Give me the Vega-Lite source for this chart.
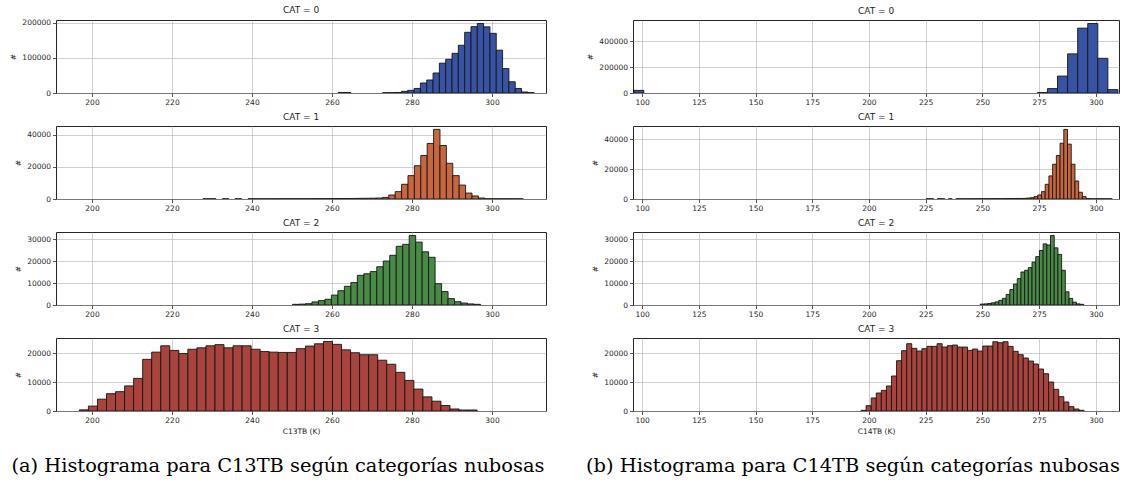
{
  "$schema": "https://vega.github.io/schema/vega-lite/v6.json",
  "background": "white",
  "padding": {"left": 9, "top": 5, "right": 5, "bottom": 5},
  "datasets": {
    "c13": [
      {"cat": 0, "t": 261.44, "n": 1500}, {"cat": 0, "t": 263.02, "n": 1500},
      {"cat": 0, "t": 272.5, "n": 800}, {"cat": 0, "t": 274.08, "n": 1000}, {"cat": 0, "t": 275.66, "n": 1500},
      {"cat": 0, "t": 277.24, "n": 4800}, {"cat": 0, "t": 278.82, "n": 7600}, {"cat": 0, "t": 280.4, "n": 13000},
      {"cat": 0, "t": 281.98, "n": 28500}, {"cat": 0, "t": 283.56, "n": 37000}, {"cat": 0, "t": 285.14, "n": 57000},
      {"cat": 0, "t": 286.72, "n": 85000}, {"cat": 0, "t": 288.3, "n": 96000}, {"cat": 0, "t": 289.88, "n": 113000},
      {"cat": 0, "t": 291.46, "n": 136000}, {"cat": 0, "t": 293.04, "n": 173000}, {"cat": 0, "t": 294.62, "n": 189000},
      {"cat": 0, "t": 296.2, "n": 198000}, {"cat": 0, "t": 297.78, "n": 188500}, {"cat": 0, "t": 299.36, "n": 170000},
      {"cat": 0, "t": 300.94, "n": 122000}, {"cat": 0, "t": 302.52, "n": 69500}, {"cat": 0, "t": 304.1, "n": 32000},
      {"cat": 0, "t": 305.68, "n": 13000}, {"cat": 0, "t": 307.26, "n": 2900}, {"cat": 0, "t": 308.84, "n": 1000},

      {"cat": 1, "t": 227.67, "n": 150}, {"cat": 1, "t": 229.27, "n": 150}, {"cat": 1, "t": 232.47, "n": 150},
      {"cat": 1, "t": 235.67, "n": 150}, {"cat": 1, "t": 238.87, "n": 150}, {"cat": 1, "t": 240.47, "n": 150},
      {"cat": 1, "t": 242.07, "n": 150}, {"cat": 1, "t": 243.67, "n": 150}, {"cat": 1, "t": 245.27, "n": 150},
      {"cat": 1, "t": 246.87, "n": 200}, {"cat": 1, "t": 248.47, "n": 200}, {"cat": 1, "t": 250.07, "n": 200},
      {"cat": 1, "t": 251.67, "n": 200}, {"cat": 1, "t": 253.27, "n": 200}, {"cat": 1, "t": 254.87, "n": 250},
      {"cat": 1, "t": 256.47, "n": 250}, {"cat": 1, "t": 258.07, "n": 250}, {"cat": 1, "t": 259.67, "n": 300},
      {"cat": 1, "t": 261.27, "n": 300}, {"cat": 1, "t": 262.87, "n": 300}, {"cat": 1, "t": 264.47, "n": 350},
      {"cat": 1, "t": 266.07, "n": 400}, {"cat": 1, "t": 267.67, "n": 450}, {"cat": 1, "t": 269.27, "n": 500},
      {"cat": 1, "t": 270.87, "n": 600}, {"cat": 1, "t": 272.47, "n": 1000}, {"cat": 1, "t": 274.07, "n": 2500},
      {"cat": 1, "t": 275.67, "n": 4600}, {"cat": 1, "t": 277.27, "n": 9200}, {"cat": 1, "t": 278.87, "n": 14600},
      {"cat": 1, "t": 280.47, "n": 20800}, {"cat": 1, "t": 282.07, "n": 27200}, {"cat": 1, "t": 283.67, "n": 34700},
      {"cat": 1, "t": 285.27, "n": 43500}, {"cat": 1, "t": 286.87, "n": 33400}, {"cat": 1, "t": 288.47, "n": 22300},
      {"cat": 1, "t": 290.07, "n": 14600}, {"cat": 1, "t": 291.67, "n": 8700}, {"cat": 1, "t": 293.27, "n": 3700},
      {"cat": 1, "t": 294.87, "n": 1900}, {"cat": 1, "t": 296.47, "n": 600}, {"cat": 1, "t": 298.07, "n": 150},
      {"cat": 1, "t": 299.67, "n": 150}, {"cat": 1, "t": 301.27, "n": 150}, {"cat": 1, "t": 302.87, "n": 150},
      {"cat": 1, "t": 304.47, "n": 150}, {"cat": 1, "t": 306.07, "n": 150},

      {"cat": 2, "t": 250.01, "n": 300}, {"cat": 2, "t": 251.63, "n": 400}, {"cat": 2, "t": 253.25, "n": 600},
      {"cat": 2, "t": 254.87, "n": 1400}, {"cat": 2, "t": 256.49, "n": 2000}, {"cat": 2, "t": 258.11, "n": 2600},
      {"cat": 2, "t": 259.73, "n": 4500}, {"cat": 2, "t": 261.35, "n": 6500}, {"cat": 2, "t": 262.97, "n": 8500},
      {"cat": 2, "t": 264.59, "n": 10200}, {"cat": 2, "t": 266.21, "n": 13500}, {"cat": 2, "t": 267.83, "n": 14200},
      {"cat": 2, "t": 269.45, "n": 15200}, {"cat": 2, "t": 271.07, "n": 17400}, {"cat": 2, "t": 272.69, "n": 20000},
      {"cat": 2, "t": 274.31, "n": 22600}, {"cat": 2, "t": 275.93, "n": 26700}, {"cat": 2, "t": 277.55, "n": 27600},
      {"cat": 2, "t": 279.17, "n": 31600}, {"cat": 2, "t": 280.79, "n": 28600}, {"cat": 2, "t": 282.41, "n": 24200},
      {"cat": 2, "t": 284.03, "n": 21700}, {"cat": 2, "t": 285.65, "n": 9700}, {"cat": 2, "t": 287.27, "n": 6100},
      {"cat": 2, "t": 288.89, "n": 2900}, {"cat": 2, "t": 290.51, "n": 1500}, {"cat": 2, "t": 292.13, "n": 900},
      {"cat": 2, "t": 293.75, "n": 500}, {"cat": 2, "t": 295.37, "n": 300},

      {"cat": 3, "t": 196.72, "n": 400}, {"cat": 3, "t": 198.98, "n": 1700}, {"cat": 3, "t": 201.24, "n": 4100},
      {"cat": 3, "t": 203.5, "n": 6000}, {"cat": 3, "t": 205.76, "n": 6700}, {"cat": 3, "t": 208.02, "n": 8700},
      {"cat": 3, "t": 210.28, "n": 11300}, {"cat": 3, "t": 212.54, "n": 17900}, {"cat": 3, "t": 214.8, "n": 20400},
      {"cat": 3, "t": 217.06, "n": 22600}, {"cat": 3, "t": 219.32, "n": 21000}, {"cat": 3, "t": 221.58, "n": 19900},
      {"cat": 3, "t": 223.84, "n": 21400}, {"cat": 3, "t": 226.1, "n": 21900}, {"cat": 3, "t": 228.36, "n": 22600},
      {"cat": 3, "t": 230.62, "n": 23000}, {"cat": 3, "t": 232.88, "n": 21900}, {"cat": 3, "t": 235.14, "n": 22600},
      {"cat": 3, "t": 237.4, "n": 22600}, {"cat": 3, "t": 239.66, "n": 21400}, {"cat": 3, "t": 241.92, "n": 20600},
      {"cat": 3, "t": 244.18, "n": 20400}, {"cat": 3, "t": 246.44, "n": 20300}, {"cat": 3, "t": 248.7, "n": 20300},
      {"cat": 3, "t": 250.96, "n": 21600}, {"cat": 3, "t": 253.22, "n": 22500}, {"cat": 3, "t": 255.48, "n": 23300},
      {"cat": 3, "t": 257.74, "n": 24100}, {"cat": 3, "t": 260.0, "n": 23100}, {"cat": 3, "t": 262.26, "n": 21200},
      {"cat": 3, "t": 264.52, "n": 20200}, {"cat": 3, "t": 266.78, "n": 19500}, {"cat": 3, "t": 269.04, "n": 19500},
      {"cat": 3, "t": 271.3, "n": 17600}, {"cat": 3, "t": 273.56, "n": 16200}, {"cat": 3, "t": 275.82, "n": 13400},
      {"cat": 3, "t": 278.08, "n": 10600}, {"cat": 3, "t": 280.34, "n": 7600}, {"cat": 3, "t": 282.6, "n": 4900},
      {"cat": 3, "t": 284.86, "n": 3400}, {"cat": 3, "t": 287.12, "n": 1900}, {"cat": 3, "t": 289.38, "n": 700},
      {"cat": 3, "t": 291.64, "n": 350}, {"cat": 3, "t": 293.9, "n": 350}
    ],
    "c14": [
      {"cat": 0, "t": 96.1, "n": 20000}, {"cat": 0, "t": 274.0, "n": 3000}, {"cat": 0, "t": 278.44, "n": 34000},
      {"cat": 0, "t": 282.88, "n": 130000}, {"cat": 0, "t": 287.32, "n": 301000}, {"cat": 0, "t": 291.76, "n": 499000},
      {"cat": 0, "t": 296.2, "n": 535000}, {"cat": 0, "t": 300.64, "n": 267000}, {"cat": 0, "t": 305.08, "n": 26000},

      {"cat": 1, "t": 224.97, "n": 150}, {"cat": 1, "t": 226.61, "n": 150}, {"cat": 1, "t": 229.89, "n": 150},
      {"cat": 1, "t": 231.53, "n": 150}, {"cat": 1, "t": 234.81, "n": 150}, {"cat": 1, "t": 238.09, "n": 150},
      {"cat": 1, "t": 239.73, "n": 150}, {"cat": 1, "t": 241.37, "n": 150}, {"cat": 1, "t": 243.01, "n": 150},
      {"cat": 1, "t": 244.65, "n": 150}, {"cat": 1, "t": 246.29, "n": 200}, {"cat": 1, "t": 247.93, "n": 200},
      {"cat": 1, "t": 249.57, "n": 200}, {"cat": 1, "t": 251.21, "n": 200}, {"cat": 1, "t": 252.85, "n": 200},
      {"cat": 1, "t": 254.49, "n": 250}, {"cat": 1, "t": 256.13, "n": 250}, {"cat": 1, "t": 257.77, "n": 250},
      {"cat": 1, "t": 259.41, "n": 300}, {"cat": 1, "t": 261.05, "n": 300}, {"cat": 1, "t": 262.69, "n": 300},
      {"cat": 1, "t": 264.33, "n": 350}, {"cat": 1, "t": 265.97, "n": 350}, {"cat": 1, "t": 267.61, "n": 400},
      {"cat": 1, "t": 269.25, "n": 600}, {"cat": 1, "t": 270.89, "n": 900}, {"cat": 1, "t": 272.53, "n": 1600},
      {"cat": 1, "t": 274.17, "n": 2700}, {"cat": 1, "t": 275.81, "n": 4900}, {"cat": 1, "t": 277.45, "n": 9800},
      {"cat": 1, "t": 279.09, "n": 15400}, {"cat": 1, "t": 280.73, "n": 23200}, {"cat": 1, "t": 282.37, "n": 29000},
      {"cat": 1, "t": 284.01, "n": 37200}, {"cat": 1, "t": 285.65, "n": 46400}, {"cat": 1, "t": 287.29, "n": 36600},
      {"cat": 1, "t": 288.93, "n": 23200}, {"cat": 1, "t": 290.57, "n": 12000}, {"cat": 1, "t": 292.21, "n": 4500},
      {"cat": 1, "t": 293.85, "n": 1600}, {"cat": 1, "t": 295.49, "n": 300}, {"cat": 1, "t": 297.13, "n": 150},
      {"cat": 1, "t": 298.77, "n": 150}, {"cat": 1, "t": 300.41, "n": 150}, {"cat": 1, "t": 302.05, "n": 150},
      {"cat": 1, "t": 303.69, "n": 150}, {"cat": 1, "t": 305.33, "n": 150},

      {"cat": 2, "t": 248.83, "n": 400}, {"cat": 2, "t": 250.46, "n": 500}, {"cat": 2, "t": 252.09, "n": 700},
      {"cat": 2, "t": 253.72, "n": 1000}, {"cat": 2, "t": 255.35, "n": 1400}, {"cat": 2, "t": 256.98, "n": 2100},
      {"cat": 2, "t": 258.61, "n": 3000}, {"cat": 2, "t": 260.24, "n": 4800}, {"cat": 2, "t": 261.87, "n": 7000},
      {"cat": 2, "t": 263.5, "n": 9500}, {"cat": 2, "t": 265.13, "n": 12000}, {"cat": 2, "t": 266.76, "n": 15000},
      {"cat": 2, "t": 268.39, "n": 15800}, {"cat": 2, "t": 270.02, "n": 17000}, {"cat": 2, "t": 271.65, "n": 19500},
      {"cat": 2, "t": 273.28, "n": 22000}, {"cat": 2, "t": 274.91, "n": 24800}, {"cat": 2, "t": 276.54, "n": 27800},
      {"cat": 2, "t": 278.17, "n": 27300}, {"cat": 2, "t": 279.8, "n": 31600}, {"cat": 2, "t": 281.43, "n": 26000},
      {"cat": 2, "t": 283.06, "n": 23000}, {"cat": 2, "t": 284.69, "n": 15800}, {"cat": 2, "t": 286.32, "n": 6000},
      {"cat": 2, "t": 287.95, "n": 3000}, {"cat": 2, "t": 289.58, "n": 1300}, {"cat": 2, "t": 291.21, "n": 500},
      {"cat": 2, "t": 292.84, "n": 300},

      {"cat": 3, "t": 196.3, "n": 230}, {"cat": 3, "t": 198.53, "n": 1840}, {"cat": 3, "t": 200.77, "n": 4490},
      {"cat": 3, "t": 203.0, "n": 6210}, {"cat": 3, "t": 205.24, "n": 7130}, {"cat": 3, "t": 207.47, "n": 8630},
      {"cat": 3, "t": 209.7, "n": 12080}, {"cat": 3, "t": 211.94, "n": 17370}, {"cat": 3, "t": 214.17, "n": 20820},
      {"cat": 3, "t": 216.41, "n": 23230}, {"cat": 3, "t": 218.64, "n": 21620}, {"cat": 3, "t": 220.87, "n": 20700},
      {"cat": 3, "t": 223.11, "n": 21500}, {"cat": 3, "t": 225.34, "n": 22310}, {"cat": 3, "t": 227.58, "n": 22310},
      {"cat": 3, "t": 229.81, "n": 23230}, {"cat": 3, "t": 232.04, "n": 22080}, {"cat": 3, "t": 234.28, "n": 22540},
      {"cat": 3, "t": 236.51, "n": 22770}, {"cat": 3, "t": 238.75, "n": 22080}, {"cat": 3, "t": 240.98, "n": 22080},
      {"cat": 3, "t": 243.21, "n": 20930}, {"cat": 3, "t": 245.45, "n": 21390}, {"cat": 3, "t": 247.68, "n": 20700},
      {"cat": 3, "t": 249.92, "n": 22430}, {"cat": 3, "t": 252.15, "n": 22430}, {"cat": 3, "t": 254.38, "n": 23920},
      {"cat": 3, "t": 256.62, "n": 23580}, {"cat": 3, "t": 258.85, "n": 23920}, {"cat": 3, "t": 261.09, "n": 22310},
      {"cat": 3, "t": 263.32, "n": 20590}, {"cat": 3, "t": 265.55, "n": 19440}, {"cat": 3, "t": 267.79, "n": 18290},
      {"cat": 3, "t": 270.02, "n": 17250}, {"cat": 3, "t": 272.26, "n": 16220}, {"cat": 3, "t": 274.49, "n": 14490},
      {"cat": 3, "t": 276.72, "n": 12880}, {"cat": 3, "t": 278.96, "n": 10010}, {"cat": 3, "t": 281.19, "n": 7480},
      {"cat": 3, "t": 283.43, "n": 4950}, {"cat": 3, "t": 285.66, "n": 3110}, {"cat": 3, "t": 287.89, "n": 1500},
      {"cat": 3, "t": 290.13, "n": 690}, {"cat": 3, "t": 292.36, "n": 230}
    ]
  },
  "spacing": 39,
  "hconcat": [
    {
      "bounds": "flush",
      "spacing": 33,
      "title": {"text": "(a) Histograma para C13TB según categorías nubosas", "orient": "bottom", "anchor": "middle", "font": "DejaVu Serif", "fontSize": 19.4, "fontWeight": "normal", "color": "#000000", "offset": 22},
      "vconcat": [
        {
          "title": "CAT = 0", "width": 490, "height": 73,
          "data": {"name": "c13"}, "transform": [{"filter": "datum.cat == 0"}],
          "mark": {"type": "bar", "binSpacing": 0, "fill": "#3953a4", "stroke": "#151515", "strokeWidth": 0.9, "clip": true},
          "encoding": {
            "x": {"field": "t", "type": "quantitative", "bin": {"binned": true, "step": 1.58}, "scale": {"domain": [191, 313.5], "nice": false, "zero": false}, "axis": {"values": [200, 220, 240, 260, 280, 300], "format": "d", "grid": true, "title": null}},
            "y": {"field": "n", "type": "quantitative", "scale": {"domain": [0, 208000], "nice": false}, "axis": {"values": [0, 100000, 200000], "format": "d", "title": "#"}}
          }
        },
        {
          "title": "CAT = 1", "width": 490, "height": 73,
          "data": {"name": "c13"}, "transform": [{"filter": "datum.cat == 1"}],
          "mark": {"type": "bar", "binSpacing": 0, "fill": "#c8673f", "stroke": "#151515", "strokeWidth": 0.9, "clip": true},
          "encoding": {
            "x": {"field": "t", "type": "quantitative", "bin": {"binned": true, "step": 1.6}, "scale": {"domain": [191, 313.5], "nice": false, "zero": false}, "axis": {"values": [200, 220, 240, 260, 280, 300], "format": "d", "grid": true, "title": null}},
            "y": {"field": "n", "type": "quantitative", "scale": {"domain": [0, 45600], "nice": false}, "axis": {"values": [0, 20000, 40000], "format": "d", "title": "#"}}
          }
        },
        {
          "title": "CAT = 2", "width": 490, "height": 73,
          "data": {"name": "c13"}, "transform": [{"filter": "datum.cat == 2"}],
          "mark": {"type": "bar", "binSpacing": 0, "fill": "#4a8a47", "stroke": "#151515", "strokeWidth": 0.9, "clip": true},
          "encoding": {
            "x": {"field": "t", "type": "quantitative", "bin": {"binned": true, "step": 1.62}, "scale": {"domain": [191, 313.5], "nice": false, "zero": false}, "axis": {"values": [200, 220, 240, 260, 280, 300], "format": "d", "grid": true, "title": null}},
            "y": {"field": "n", "type": "quantitative", "scale": {"domain": [0, 33200], "nice": false}, "axis": {"values": [0, 10000, 20000, 30000], "format": "d", "title": "#"}}
          }
        },
        {
          "title": "CAT = 3", "width": 490, "height": 73,
          "data": {"name": "c13"}, "transform": [{"filter": "datum.cat == 3"}],
          "mark": {"type": "bar", "binSpacing": 0, "fill": "#a9433d", "stroke": "#151515", "strokeWidth": 0.9, "clip": true},
          "encoding": {
            "x": {"field": "t", "type": "quantitative", "bin": {"binned": true, "step": 2.26}, "scale": {"domain": [191, 313.5], "nice": false, "zero": false}, "axis": {"values": [200, 220, 240, 260, 280, 300], "format": "d", "grid": true, "title": "C13TB (K)", "titlePadding": 3}},
            "y": {"field": "n", "type": "quantitative", "scale": {"domain": [0, 25300], "nice": false}, "axis": {"values": [0, 10000, 20000], "format": "d", "title": "#"}}
          }
        }
      ]
    },
    {
      "bounds": "flush",
      "spacing": 33,
      "title": {"text": "(b) Histograma para C14TB según categorías nubosas", "orient": "bottom", "anchor": "middle", "font": "DejaVu Serif", "fontSize": 19.4, "fontWeight": "normal", "color": "#000000", "offset": 22},
      "vconcat": [
        {
          "title": "CAT = 0", "width": 486, "height": 73,
          "data": {"name": "c14"}, "transform": [{"filter": "datum.cat == 0"}],
          "mark": {"type": "bar", "binSpacing": 0, "fill": "#3953a4", "stroke": "#151515", "strokeWidth": 0.9, "clip": true},
          "encoding": {
            "x": {"field": "t", "type": "quantitative", "bin": {"binned": true, "step": 4.44}, "scale": {"domain": [96, 310.2], "nice": false, "zero": false}, "axis": {"values": [100, 125, 150, 175, 200, 225, 250, 275, 300], "format": "d", "grid": true, "title": null}},
            "y": {"field": "n", "type": "quantitative", "scale": {"domain": [0, 561700], "nice": false}, "axis": {"values": [0, 200000, 400000], "format": "d", "title": "#"}}
          }
        },
        {
          "title": "CAT = 1", "width": 486, "height": 73,
          "data": {"name": "c14"}, "transform": [{"filter": "datum.cat == 1"}],
          "mark": {"type": "bar", "binSpacing": 0, "fill": "#c8673f", "stroke": "#151515", "strokeWidth": 0.9, "clip": true},
          "encoding": {
            "x": {"field": "t", "type": "quantitative", "bin": {"binned": true, "step": 1.64}, "scale": {"domain": [96, 310.2], "nice": false, "zero": false}, "axis": {"values": [100, 125, 150, 175, 200, 225, 250, 275, 300], "format": "d", "grid": true, "title": null}},
            "y": {"field": "n", "type": "quantitative", "scale": {"domain": [0, 48700], "nice": false}, "axis": {"values": [0, 20000, 40000], "format": "d", "title": "#"}}
          }
        },
        {
          "title": "CAT = 2", "width": 486, "height": 73,
          "data": {"name": "c14"}, "transform": [{"filter": "datum.cat == 2"}],
          "mark": {"type": "bar", "binSpacing": 0, "fill": "#4a8a47", "stroke": "#151515", "strokeWidth": 0.9, "clip": true},
          "encoding": {
            "x": {"field": "t", "type": "quantitative", "bin": {"binned": true, "step": 1.63}, "scale": {"domain": [96, 310.2], "nice": false, "zero": false}, "axis": {"values": [100, 125, 150, 175, 200, 225, 250, 275, 300], "format": "d", "grid": true, "title": null}},
            "y": {"field": "n", "type": "quantitative", "scale": {"domain": [0, 33200], "nice": false}, "axis": {"values": [0, 10000, 20000, 30000], "format": "d", "title": "#"}}
          }
        },
        {
          "title": "CAT = 3", "width": 486, "height": 73,
          "data": {"name": "c14"}, "transform": [{"filter": "datum.cat == 3"}],
          "mark": {"type": "bar", "binSpacing": 0, "fill": "#a9433d", "stroke": "#151515", "strokeWidth": 0.9, "clip": true},
          "encoding": {
            "x": {"field": "t", "type": "quantitative", "bin": {"binned": true, "step": 2.234}, "scale": {"domain": [96, 310.2], "nice": false, "zero": false}, "axis": {"values": [100, 125, 150, 175, 200, 225, 250, 275, 300], "format": "d", "grid": true, "title": "C14TB (K)", "titlePadding": 3}},
            "y": {"field": "n", "type": "quantitative", "scale": {"domain": [0, 25200], "nice": false}, "axis": {"values": [0, 10000, 20000], "format": "d", "title": "#"}}
          }
        }
      ]
    }
  ],
  "config": {
    "font": "DejaVu Sans",
    "view": {"stroke": "#262626", "strokeWidth": 1},
    "axis": {
      "labelFont": "DejaVu Sans", "labelFontSize": 7.5, "labelColor": "#262626", "labelPadding": 2,
      "labelFlush": false, "labelOverlap": false,
      "titleFont": "DejaVu Sans", "titleFontSize": 7.5, "titleFontWeight": "normal", "titleColor": "#262626", "titlePadding": 4,
      "domain": false, "ticks": true, "tickSize": 3.5, "tickWidth": 0.8, "tickColor": "#262626",
      "gridColor": "#b0b0b0", "gridWidth": 0.8, "gridOpacity": 0.75, "zindex": 1
    },
    "title": {"font": "DejaVu Sans", "fontSize": 9, "fontWeight": "normal", "color": "#262626", "offset": 4}
  }
}
